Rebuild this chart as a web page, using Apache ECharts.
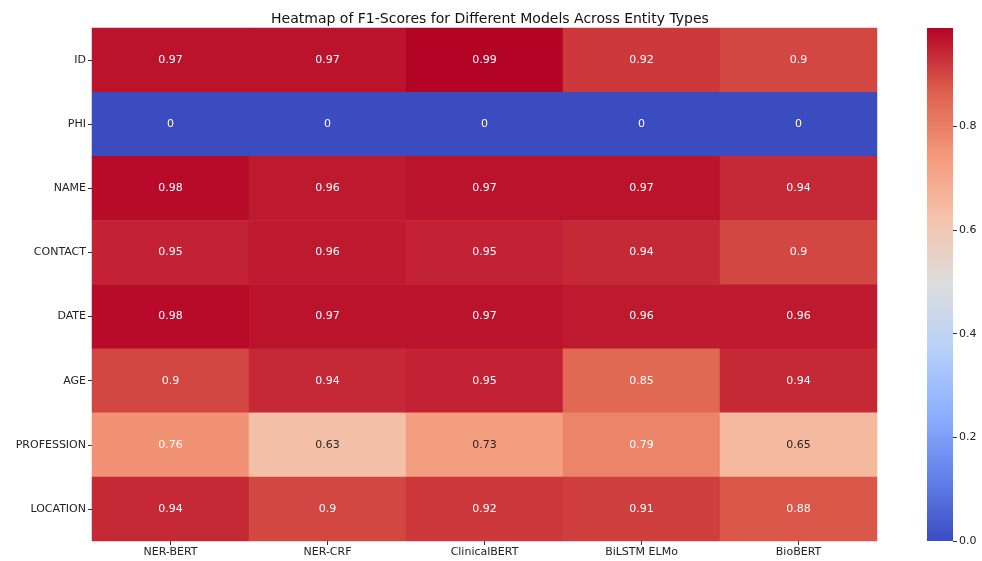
<!DOCTYPE html>
<html>
<head>
<meta charset="utf-8">
<script src="https://cdn.jsdelivr.net/npm/echarts@6/dist/echarts.min.js"></script>
<style>
  html, body { margin: 0; padding: 0; background: #fff; }
  #chart { width: 982px; height: 561px; }
</style>
</head>
<body>
<div id="chart"></div>
<script>
// models along x, entity types down y
const models = ['NER-BERT', 'NER-CRF', 'ClinicalBERT', 'BiLSTM ELMo', 'BioBERT']
const entities = ['ID', 'PHI', 'NAME', 'CONTACT', 'DATE', 'AGE', 'PROFESSION', 'LOCATION']

// F1 per model, in the same order as entities
const nerBert = [0.97, 0, 0.98, 0.95, 0.98, 0.9, 0.76, 0.94]
const nerCrf = [0.97, 0, 0.96, 0.96, 0.97, 0.94, 0.63, 0.9]
const clinicalBert = [0.99, 0, 0.97, 0.95, 0.97, 0.95, 0.73, 0.92]
const bilstmElmo = [0.92, 0, 0.97, 0.94, 0.96, 0.85, 0.79, 0.91]
const bioBert = [0.9, 0, 0.94, 0.9, 0.96, 0.94, 0.65, 0.88]

const colorbarTicks = [0, 0.2, 0.4, 0.6, 0.8]
const vmin = 0
const vmax = 0.99

// matplotlib coolwarm, sampled evenly
const coolwarm = ['#3b4cc0', '#6282ea', '#8db0fe', '#b8d0f9', '#dddddd',
                  '#f5c4ad', '#f49a7b', '#de604d', '#b40426']

const columns = [nerBert, nerCrf, clinicalBert, bilstmElmo, bioBert]
const cells = []
columns.forEach((col, x) => {
  col.forEach((v, y) => {
    // light cells get dark text, like seaborn does
    const dark = v > 0.55 && v < 0.75
    cells.push({
      value: [x, y, v],
      label: { color: dark ? '#262626' : '#ffffff' }
    })
  })
})

const font = 'DejaVu Sans'
const chart = echarts.init(document.getElementById('chart'))
chart.setOption({
  animation: false,
  textStyle: { fontFamily: font },
  title: {
    text: 'Heatmap of F1-Scores for Different Models Across Entity Types',
    left: 485,
    textAlign: 'center',
    top: 7,
    textStyle: { fontFamily: font, fontSize: 14, fontWeight: 'normal', color: '#111' }
  },
  grid: [
    { left: 92, right: 105, top: 28, bottom: 20 },
    { left: 927, width: 26, top: 28, bottom: 20 }
  ],
  xAxis: [
    {
      type: 'category',
      data: models,
      gridIndex: 0,
      axisLine: { show: false },
      axisTick: { show: true, alignWithLabel: true, length: 4, lineStyle: { color: '#333' } },
      axisLabel: { color: '#222', fontSize: 11, margin: 6 },
      splitLine: { show: false }
    },
    {
      type: 'category',
      data: ['cb'],
      gridIndex: 1,
      show: false
    }
  ],
  yAxis: [
    {
      type: 'category',
      data: entities,
      inverse: true,
      gridIndex: 0,
      axisLine: { show: false },
      axisTick: { show: true, alignWithLabel: true, length: 4, lineStyle: { color: '#333' } },
      axisLabel: { color: '#222', fontSize: 11, margin: 6 },
      splitLine: { show: false }
    },
    {
      type: 'value',
      gridIndex: 1,
      min: vmin,
      max: vmax,
      position: 'right',
      axisLine: { show: false },
      axisTick: { show: true, length: 4, lineStyle: { color: '#333' },
        customValues: colorbarTicks },
      axisLabel: { color: '#222', fontSize: 11, margin: 6,
        customValues: colorbarTicks,
        formatter: v => v.toFixed(1) },
      splitLine: { show: false }
    }
  ],
  visualMap: {
    show: false,
    seriesIndex: 0,
    dimension: 2,
    min: vmin,
    max: vmax,
    inRange: { color: coolwarm }
  },
  series: [
    {
      type: 'heatmap',
      xAxisIndex: 0,
      yAxisIndex: 0,
      data: cells,
      label: {
        show: true,
        fontSize: 11,
        formatter: p => String(p.value[2])
      },
      emphasis: { disabled: true }
    },
    {
      // the colour bar
      type: 'bar',
      xAxisIndex: 1,
      yAxisIndex: 1,
      data: [vmax],
      barWidth: '100%',
      silent: true,
      itemStyle: {
        color: {
          type: 'linear', x: 0, y: 1, x2: 0, y2: 0,
          colorStops: coolwarm.map((c, i) => ({ offset: i / (coolwarm.length - 1), color: c }))
        }
      }
    }
  ]
})
</script>
</body>
</html>
